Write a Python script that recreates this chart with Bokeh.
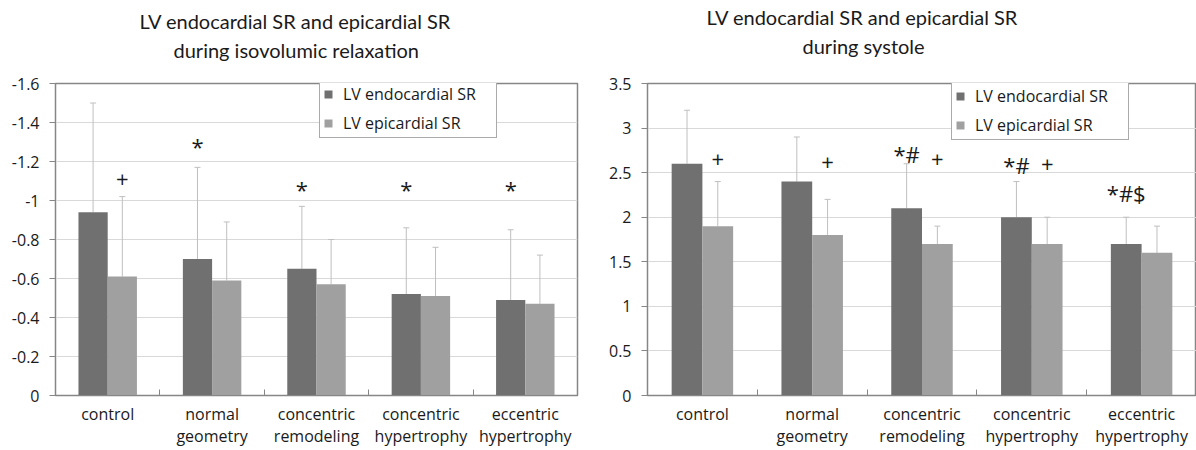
from bokeh.plotting import figure
from bokeh.models import (Range1d, FixedTicker, CustomJSTickFormatter, Legend, LegendItem,
                          Title, Whisker, TeeHead, ColumnDataSource)
from bokeh.layouts import row
from bokeh.embed import file_html
from bokeh.resources import INLINE
from bokeh.core.properties import value

# ---------------- data ----------------
categories = ["control", "normal\ngeometry", "concentric\nremodeling",
              "concentric\nhypertrophy", "eccentric\nhypertrophy"]
series = ["LV endocardial SR", "LV epicardial SR"]

# isovolumic relaxation (negative strain rate)
ivr_endo = [-0.94, -0.70, -0.65, -0.52, -0.49]
ivr_endo_err = [-1.50, -1.17, -0.97, -0.86, -0.85]
ivr_epi = [-0.61, -0.59, -0.57, -0.51, -0.47]
ivr_epi_err = [-1.02, -0.89, -0.80, -0.76, -0.72]
ivr_ticks = [0, -0.2, -0.4, -0.6, -0.8, -1.0, -1.2, -1.4, -1.6]
ivr_mark_text = ["+", "*", "*", "*", "*"]
ivr_mark_cat = [0, 1, 2, 3, 4]
ivr_mark_series = [1, 0, 0, 0, 0]
ivr_mark_y = [-1.11, -1.28, -1.06, -1.06, -1.06]

# systole
sys_endo = [2.6, 2.4, 2.1, 2.0, 1.7]
sys_endo_err = [3.2, 2.9, 2.6, 2.4, 2.0]
sys_epi = [1.9, 1.8, 1.7, 1.7, 1.6]
sys_epi_err = [2.4, 2.2, 1.9, 2.0, 1.9]
sys_ticks = [0, 0.5, 1, 1.5, 2, 2.5, 3, 3.5]
sys_mark_text = ["+", "+", "*#", "+", "*#", "+", "*#$"]
sys_mark_cat = [0, 1, 2, 2, 3, 3, 4]
sys_mark_series = [1, 1, 0, 1, 0, 1, 0]
sys_mark_y = [2.65, 2.62, 2.71, 2.65, 2.59, 2.60, 2.27]

title_line1 = "LV endocardial SR and epicardial SR"
ivr_title_line2 = "during isovolumic relaxation"
sys_title_line2 = "during systole"

# ---------------- style ----------------
DARK = "#707070"
LIGHT = "#a0a0a0"
ERR = "#bfbfbf"
AXIS = "#868686"
GRID = "#d9d9d9"
TXT = "#1a1a1a"
FONT = "Open Sans"
TFONT = "Lato"
BAR_W = 0.28
OFF = 0.14


def make_chart(title1, title2, endo, endo_err, epi, epi_err, ticks, yr,
               mtext, mcat, mser, my, width, bl, br, bt, bb, legend_loc,
               spacer, off1, off2):
    p = figure(width=width, height=450, x_range=Range1d(0, 5), y_range=yr,
               output_backend="svg", toolbar_location=None,
               min_border_left=bl, min_border_right=br, min_border_top=bt,
               min_border_bottom=bb, background_fill_color="white",
               border_fill_color="white")
    p.title = None
    ts = Title(text=" ", text_font_size="1px", standoff=spacer)
    t2 = Title(text=title2, align="left", offset=off2, text_font=TFONT,
               text_font_size="20px", text_font_style="normal", text_color=TXT,
               standoff=4)
    t1 = Title(text=title1, align="left", offset=off1, text_font=TFONT,
               text_font_size="20px", text_font_style="normal", text_color=TXT,
               standoff=2)
    p.add_layout(ts, "above")
    p.add_layout(t2, "above")
    p.add_layout(t1, "above")

    n = len(categories)
    xs_endo = [i + 0.5 - OFF for i in range(n)]
    xs_epi = [i + 0.5 + OFF for i in range(n)]
    s_endo = ColumnDataSource(dict(x=xs_endo, v=endo, e=endo_err))
    s_epi = ColumnDataSource(dict(x=xs_epi, v=epi, e=epi_err))
    r1 = p.vbar(x="x", top="v", bottom=0, width=BAR_W, source=s_endo,
                fill_color=DARK, line_color=None)
    r2 = p.vbar(x="x", top="v", bottom=0, width=BAR_W, source=s_epi,
                fill_color=LIGHT, line_color=None)
    for s in (s_endo, s_epi):
        w = Whisker(base="x", lower="v", upper="e", source=s, dimension="height",
                    line_color=ERR, line_width=1,
                    upper_head=TeeHead(size=6, line_color=ERR, line_width=1),
                    lower_head=None)
        p.add_layout(w)

    mx = [mcat[k] + 0.5 + (OFF if mser[k] == 1 else -OFF) for k in range(len(mtext))]
    p.text(x=mx, y=my, text=mtext, text_font=value(FONT), text_font_size="22px",
           text_align="center", text_baseline="middle", text_color=TXT)

    # axes
    p.xaxis.ticker = FixedTicker(ticks=[i + 0.5 for i in range(n)],
                                 minor_ticks=list(range(n + 1)))
    p.xaxis.major_label_overrides = {i + 0.5: categories[i] for i in range(n)}
    p.xaxis.major_tick_line_color = None
    p.xaxis.major_tick_in = 0
    p.xaxis.major_tick_out = 0
    p.xaxis.minor_tick_in = 6
    p.xaxis.minor_tick_out = 0
    p.xaxis.minor_tick_line_color = AXIS
    p.xaxis.axis_line_color = AXIS
    p.xaxis.major_label_text_font = FONT
    p.xaxis.major_label_text_font_size = "16px"
    p.xaxis.major_label_text_line_height = 1.0
    p.xaxis.major_label_text_color = TXT
    p.xaxis.major_label_standoff = 7

    p.yaxis.ticker = FixedTicker(ticks=ticks)
    p.yaxis.formatter = CustomJSTickFormatter(code="return String(Math.round(tick*10)/10)")
    p.yaxis.axis_line_color = AXIS
    p.yaxis.major_tick_line_color = AXIS
    p.yaxis.major_tick_in = 0
    p.yaxis.major_tick_out = 6
    p.yaxis.minor_tick_line_color = None
    p.yaxis.major_label_text_font = FONT
    p.yaxis.major_label_text_font_size = "16px"
    p.yaxis.major_label_text_color = TXT
    p.yaxis.major_label_standoff = 10

    p.xgrid.grid_line_color = None
    p.ygrid.grid_line_color = GRID
    p.outline_line_color = AXIS
    p.outline_line_width = 1.5

    leg = Legend(items=[LegendItem(label=series[0], renderers=[r1]),
                        LegendItem(label=series[1], renderers=[r2])],
                 location=legend_loc, orientation="vertical",
                 border_line_color="#555555", border_line_width=1,
                 background_fill_color="white", background_fill_alpha=1,
                 label_text_font=FONT, label_text_font_size="16px",
                 label_text_line_height=0.8, label_width=150,
                 label_text_color=TXT, glyph_width=10, glyph_height=10,
                 label_height=18, spacing=7, padding=3, margin=0,
                 label_standoff=10)
    p.add_layout(leg, "center")
    return p


p1 = make_chart(title_line1, ivr_title_line2,
                ivr_endo, ivr_endo_err, ivr_epi, ivr_epi_err, ivr_ticks,
                Range1d(0, -1.6), ivr_mark_text, ivr_mark_cat, ivr_mark_series,
                ivr_mark_y, 590, 55, 13, 79, 53, (264, 257), 16.5, 84, 118)
p2 = make_chart(title_line1, sys_title_line2,
                sys_endo, sys_endo_err, sys_epi, sys_epi_err, sys_ticks,
                Range1d(0, 3.5), sys_mark_text, sys_mark_cat, sys_mark_series,
                sys_mark_y, 606, 57, 0, 83, 55, (304, 255), 20.5, 59, 155)

layout = row(p1, p2)
open("out.html", "w").write(file_html(layout, INLINE))
